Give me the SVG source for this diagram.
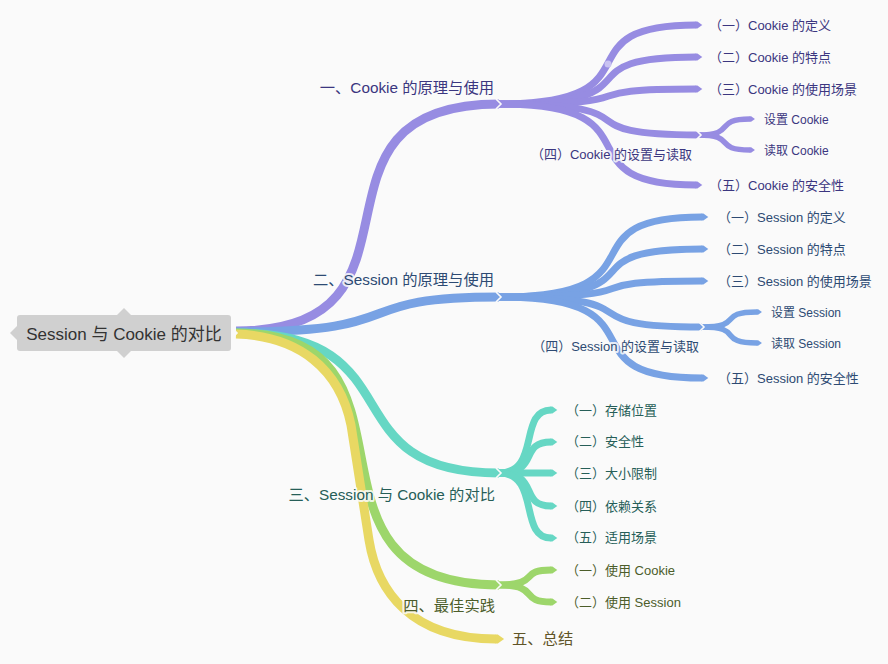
<svg xmlns="http://www.w3.org/2000/svg" width="888" height="664" viewBox="0 0 888 664">
<style>
text{font-family:"Liberation Sans","Noto Sans CJK SC",sans-serif;}
.l{fill:none;stroke-linecap:butt;}
.m{stroke-width:9;}
.c{stroke-width:7;}
.s{stroke-width:5.5;}
.pu{stroke:#978ce2;}
.bl{stroke:#78a2e4;}
.te{stroke:#66d7c4;}
.gr{stroke:#9dd66b;}
.ye{stroke:#e8d863;}
.nt{fill:none;stroke:#fafafa;stroke-width:1.6;}
.t1{font-size:15.3px;}
.t2{font-size:13px;}
.t3{font-size:12px;}
.h{stroke:#fafafa;stroke-width:4;stroke-linejoin:round;paint-order:stroke;stroke-opacity:0.85;}
.cpu{fill:#3b3680;}
.cbl{fill:#2d4a73;}
.cte{fill:#265e58;}
.cgr{fill:#4c5d2a;}
.cye{fill:#5f5427;}
</style>
<defs>
<marker id="apu" viewBox="0 -0.5 1 1" markerWidth="1" markerHeight="1" refX="0" refY="0" orient="auto" overflow="visible"><path d="M-0.05,-0.5L0.2,-0.5L0.9,0L0.2,0.5L-0.05,0.5Z" fill="#978ce2"/></marker>
<marker id="abl" viewBox="0 -0.5 1 1" markerWidth="1" markerHeight="1" refX="0" refY="0" orient="auto" overflow="visible"><path d="M-0.05,-0.5L0.2,-0.5L0.9,0L0.2,0.5L-0.05,0.5Z" fill="#78a2e4"/></marker>
<marker id="ate" viewBox="0 -0.5 1 1" markerWidth="1" markerHeight="1" refX="0" refY="0" orient="auto" overflow="visible"><path d="M-0.05,-0.5L0.2,-0.5L0.9,0L0.2,0.5L-0.05,0.5Z" fill="#66d7c4"/></marker>
<marker id="agr" viewBox="0 -0.5 1 1" markerWidth="1" markerHeight="1" refX="0" refY="0" orient="auto" overflow="visible"><path d="M-0.05,-0.5L0.2,-0.5L0.9,0L0.2,0.5L-0.05,0.5Z" fill="#9dd66b"/></marker>
<marker id="aye" viewBox="0 -0.5 1 1" markerWidth="1" markerHeight="1" refX="0" refY="0" orient="auto" overflow="visible"><path d="M-0.05,-0.5L0.2,-0.5L0.9,0L0.2,0.5L-0.05,0.5Z" fill="#e8d863"/></marker>
</defs>
<rect width="888" height="664" fill="#fafafa"/>

<g id="connectors">
  <!-- purple -->
  <path class="l m pu" d="M236,331 C450,331 283,104 499,104"/>
  <path class="l c pu" marker-end="url(#apu)" d="M499,104 C666,104 555,25 696,25"/>
  <path class="l c pu" marker-end="url(#apu)" d="M499,104 C666,104 555,57 696,57"/>
  <path class="l c pu" marker-end="url(#apu)" d="M499,104 C666,104 555,89 696,89"/>
  <path class="l c pu" d="M499,104 C664,104 554,135 698,135"/>
  <path class="l c pu" marker-end="url(#apu)" d="M499,104 C666,104 555,185 696,185"/>
  <path class="l s pu" marker-end="url(#apu)" d="M698,135 C738,135 712,119 750,119"/>
  <path class="l s pu" marker-end="url(#apu)" d="M698,135 C738,135 712,150 750,150"/>
  <circle cx="608" cy="64" r="3.5" fill="#c9c2f2"/>
  <!-- blue -->
  <path class="l m bl" d="M236,332 C420,332 340,297 499,297"/>
  <path class="l c bl" marker-end="url(#abl)" d="M499,297 C672,297 557,217 702,217"/>
  <path class="l c bl" marker-end="url(#abl)" d="M499,297 C672,297 557,249 702,249"/>
  <path class="l c bl" marker-end="url(#abl)" d="M499,297 C672,297 557,281 702,281"/>
  <path class="l c bl" d="M499,297 C668,297 556,327 702,327"/>
  <path class="l c bl" marker-end="url(#abl)" d="M499,297 C672,297 557,378 702,378"/>
  <path class="l s bl" marker-end="url(#abl)" d="M702,327 C745,327 716,312 757,312"/>
  <path class="l s bl" marker-end="url(#abl)" d="M702,327 C745,327 716,343 757,343"/>
  <!-- teal -->
  <path class="l m te" d="M236,333 C419,333 326,473 499,473"/>
  <path class="l c te" marker-end="url(#ate)" d="M499,473 C541,473 518,410 551,410"/>
  <path class="l c te" marker-end="url(#ate)" d="M499,473 C541,473 518,442 551,442"/>
  <path class="l c te" marker-end="url(#ate)" d="M499,473 L551,473"/>
  <path class="l c te" marker-end="url(#ate)" d="M499,473 C541,473 518,506 551,506"/>
  <path class="l c te" marker-end="url(#ate)" d="M499,473 C541,473 518,538 551,538"/>
  <!-- green -->
  <path class="l m gr" d="M236,333 C443,333 276,585 499,585"/>
  <path class="l c gr" marker-end="url(#agr)" d="M499,585 C541,585 518,570 551,570"/>
  <path class="l c gr" marker-end="url(#agr)" d="M499,585 C541,585 518,602 551,602"/>
  <!-- yellow -->
  <path class="l m ye" marker-end="url(#aye)" d="M236,334 C300,336 340,370 351,425 L369,540 C377,590 410,639 496,639"/>
  <!-- notches -->
  <polyline class="nt" points="232,328 237,333 232,338"/>
  <polyline class="nt" points="496,99 501,104 496,109"/>
  <polyline class="nt" points="496,292 501,297 496,302"/>
  <polyline class="nt" points="496,468 501,473 496,478"/>
  <polyline class="nt" points="496,580 501,585 496,590"/>
  <polyline class="nt" points="696,130 701,135 696,140"/>
  <polyline class="nt" points="699,322 704,327 699,332"/>
</g>

<g id="root">
  <rect x="17" y="315" width="214" height="36" rx="3" fill="#d0d0d0"/>
  <polygon points="117,315 124,308 131,315" fill="#d0d0d0"/>
  <polygon points="117,351 124,358 131,351" fill="#d0d0d0"/>
  <polygon points="17,326 10,333 17,340" fill="#d0d0d0"/>
  <text x="124" y="340" font-size="17" text-anchor="middle" fill="#333333">Session 与 Cookie 的对比</text>
</g>

<g id="n1"><text class="t1 h cpu" x="494" y="92.5" text-anchor="end">一、Cookie 的原理与使用</text></g>
<g id="n1-1"><text class="t2 h cpu" x="709" y="29.6">（一）Cookie 的定义</text></g>
<g id="n1-2"><text class="t2 h cpu" x="709" y="62">（二）Cookie 的特点</text></g>
<g id="n1-3"><text class="t2 h cpu" x="709" y="94">（三）Cookie 的使用场景</text></g>
<g id="n1-4"><text class="t2 h cpu" x="692" y="158.6" text-anchor="end">（四）Cookie 的设置与读取</text></g>
<g id="n1-4-1"><text class="t3 h cpu" x="764" y="123.5">设置 Cookie</text></g>
<g id="n1-4-2"><text class="t3 h cpu" x="764" y="154.5">读取 Cookie</text></g>
<g id="n1-5"><text class="t2 h cpu" x="709" y="189.6">（五）Cookie 的安全性</text></g>

<g id="n2"><text class="t1 h cbl" x="494" y="284.5" text-anchor="end">二、Session 的原理与使用</text></g>
<g id="n2-1"><text class="t2 h cbl" x="718" y="222">（一）Session 的定义</text></g>
<g id="n2-2"><text class="t2 h cbl" x="718" y="254">（二）Session 的特点</text></g>
<g id="n2-3"><text class="t2 h cbl" x="718" y="285.6">（三）Session 的使用场景</text></g>
<g id="n2-4"><text class="t2 h cbl" x="699" y="351.3" text-anchor="end">（四）Session 的设置与读取</text></g>
<g id="n2-4-1"><text class="t3 h cbl" x="771" y="316.5">设置 Session</text></g>
<g id="n2-4-2"><text class="t3 h cbl" x="771" y="347.5">读取 Session</text></g>
<g id="n2-5"><text class="t2 h cbl" x="718" y="382.6">（五）Session 的安全性</text></g>

<g id="n3"><text class="t1 h cte" x="495" y="499.5" text-anchor="end">三、Session 与 Cookie 的对比</text></g>
<g id="n3-1"><text class="t2 h cte" x="566" y="414.6">（一）存储位置</text></g>
<g id="n3-2"><text class="t2 h cte" x="566" y="446.3">（二）安全性</text></g>
<g id="n3-3"><text class="t2 h cte" x="566" y="478">（三）大小限制</text></g>
<g id="n3-4"><text class="t2 h cte" x="566" y="510.8">（四）依赖关系</text></g>
<g id="n3-5"><text class="t2 h cte" x="566" y="542.3">（五）适用场景</text></g>

<g id="n4"><text class="t1 h cgr" x="495" y="611" text-anchor="end">四、最佳实践</text></g>
<g id="n4-1"><text class="t2 h cgr" x="566" y="574.6">（一）使用 Cookie</text></g>
<g id="n4-2"><text class="t2 h cgr" x="566" y="607">（二）使用 Session</text></g>

<g id="n5"><text class="t1 h cye" x="512" y="644">五、总结</text></g>
</svg>
